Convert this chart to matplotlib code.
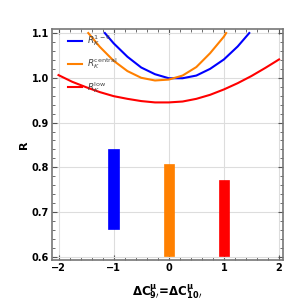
import numpy as np
import matplotlib.pyplot as plt
from matplotlib.ticker import MultipleLocator

# curves
blue_x = [-1.16, -1.0, -0.75, -0.5, -0.25, 0.0, 0.25, 0.5, 0.75, 1.0, 1.25, 1.46]
blue_y = [1.100, 1.077, 1.047, 1.023, 1.008, 0.999, 0.999, 1.005, 1.020, 1.041, 1.070, 1.100]

orange_x = [-1.46, -1.25, -1.0, -0.75, -0.5, -0.25, 0.0, 0.25, 0.5, 0.75, 1.0, 1.04]
orange_y = [1.100, 1.069, 1.038, 1.015, 1.000, 0.994, 0.996, 1.005, 1.024, 1.055, 1.092, 1.100]

red_x = [-2.0, -1.75, -1.5, -1.25, -1.0, -0.75, -0.5, -0.25, 0.0, 0.25, 0.5, 0.75, 1.0, 1.25, 1.5, 1.75, 2.0]
red_y = [1.006, 0.991, 0.979, 0.968, 0.959, 0.953, 0.948, 0.945, 0.945, 0.947, 0.953, 0.962, 0.974, 0.988, 1.004, 1.022, 1.041]

# bars: position, low, high
bar_x = [-1, 0, 1]
bar_lo = [0.663, 0.601, 0.601]
bar_hi = [0.841, 0.807, 0.772]

labels = [r'$R_K^{1-6}$', r'$R_K^{\rm central}$', r'$R_K^{\rm low}$']
colors = ['#0000ff', '#ff8000', '#ff0000']

plt.rcParams['font.family'] = 'DejaVu Sans'
fig = plt.figure(figsize=(3.0, 3.02), dpi=100)
ax = fig.add_axes([0.173, 0.139, 0.770, 0.765])

for xs, ys, c, lab in zip([blue_x, orange_x, red_x], [blue_y, orange_y, red_y], colors, labels):
    ax.plot(xs, ys, color=c, lw=1.5, label=lab)

for x, lo, hi, c in zip(bar_x, bar_lo, bar_hi, colors):
    ax.bar(x, hi - lo, bottom=lo, width=0.19, color=c, edgecolor=c, lw=0.5)

ax.set_xlim(-2.12, 2.07)
ax.set_ylim(0.593, 1.109)
ax.xaxis.set_minor_locator(MultipleLocator(0.2))
ax.yaxis.set_minor_locator(MultipleLocator(0.02))
ax.set_xticks([-2, -1, 0, 1, 2])
ax.set_xticklabels(['\u22122', '\u22121', '0', '1', '2'])
ax.set_yticks([0.6, 0.7, 0.8, 0.9, 1.0, 1.1])
ax.set_yticklabels(['0.6', '0.7', '0.8', '0.9', '1.0', '1.1'])
ax.grid(True, which='major', color='#dddddd', lw=0.8)
ax.set_axisbelow(True)
ax.tick_params(which='both', direction='in', top=True, right=True, color='#555555',
               labelsize=7, pad=2)
ax.tick_params(which='major', length=3.5, width=0.8)
ax.tick_params(which='minor', length=2, width=0.6)
for lab in ax.get_xticklabels() + ax.get_yticklabels():
    lab.set_fontweight('bold')
for s in ax.spines.values():
    s.set_color('#777777')
    s.set_linewidth(1.2)

ax.set_ylabel('R', fontsize=8, fontweight='bold', labelpad=2)
ax.set_xlabel(r'$\mathbf{\Delta C^{\mu}_{9\prime}\!=\!\Delta C^{\mu}_{10\prime}}$', fontsize=8.5, labelpad=7)

ax.legend(loc='upper left', bbox_to_anchor=(0.05, 1.0), borderaxespad=0.1, frameon=False,
          fontsize=6.5, handlelength=1.6, handletextpad=0.5, labelspacing=0.9,
          labelcolor='#444444')

fig.savefig('out.png', dpi=100)
